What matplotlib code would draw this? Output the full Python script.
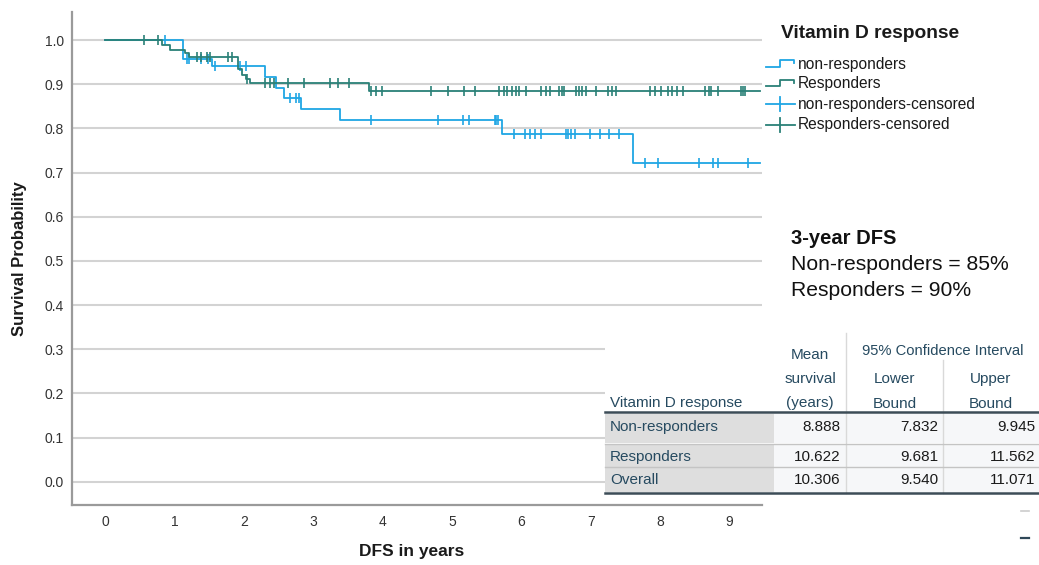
import numpy as np
import matplotlib
matplotlib.use("Agg")
import matplotlib.pyplot as plt
from matplotlib.lines import Line2D
from matplotlib.patches import Rectangle
from matplotlib import font_manager

# ---------------- data ----------------
resp_times = [0.0, 0.82, 0.93, 1.15, 1.21, 1.92, 1.97, 2.03, 2.09, 3.81, 9.44]
resp_surv = [1.0, 0.989, 0.977, 0.970, 0.962, 0.935, 0.920, 0.911, 0.903, 0.884, 0.884]
resp_censor = [0.56, 0.77, 1.32, 1.39, 1.47, 1.51, 1.78, 1.83, 2.05,
               2.31, 2.38, 2.43, 2.64, 2.87, 3.24, 3.36, 3.51,
               3.84, 3.91, 3.99, 4.70, 4.95, 5.17, 5.33, 5.68, 5.75, 5.79, 5.86,
               5.93, 5.97, 6.07, 6.29, 6.35, 6.41, 6.55, 6.58, 6.61, 6.79, 6.83,
               6.88, 6.94, 7.08, 7.25, 7.31, 7.36, 7.85, 7.93, 8.02, 8.12, 8.17,
               8.24, 8.33, 8.65, 8.71, 8.74, 8.84, 9.17, 9.20, 9.22]

nonresp_times = [0.0, 1.13, 1.54, 2.31, 2.47, 2.58, 2.82, 3.39, 5.72, 7.61, 9.44]
nonresp_surv = [1.0, 0.958, 0.941, 0.917, 0.891, 0.868, 0.843, 0.819, 0.787, 0.722, 0.722]
nonresp_censor = [0.86, 1.18, 1.21, 1.39, 1.49, 1.59, 1.95, 2.03,
                  2.67, 2.76, 2.80, 3.84, 4.80, 5.16, 5.25, 5.62, 5.64, 5.67,
                  5.89, 6.05, 6.12, 6.20, 6.29, 6.64, 6.68, 6.71, 6.77, 6.99,
                  7.13, 7.27, 7.41, 7.78, 7.97, 8.56, 8.76, 8.84, 9.27]

x_ticks = list(range(0, 10))
y_ticks = [0.0, 0.1, 0.2, 0.3, 0.4, 0.5, 0.6, 0.7, 0.8, 0.9, 1.0]

legend_title = "Vitamin D response"
legend_labels = ["non-responders", "Responders",
                 "non-responders-censored", "Responders-censored"]

dfs_title = "3-year DFS"
dfs_lines = ["Non-responders = 85%", "Responders = 90%"]

table_groups = ["Non-responders", "Responders", "Overall"]
table_mean = [8.888, 10.622, 10.306]
table_lower = [7.832, 9.681, 9.540]
table_upper = [9.945, 11.562, 11.071]

# ---------------- style ----------------
BLUE = "#1fa6e4"
TEAL = "#2a8077"
TXT = "#264a60"

names = {f.name for f in font_manager.fontManager.ttflist}
MAIN = "Liberation Sans" if "Liberation Sans" in names else "DejaVu Sans"
NARROW = "Liberation Sans Narrow" if "Liberation Sans Narrow" in names else MAIN
plt.rcParams["font.family"] = [MAIN, "DejaVu Sans"]

W, H = 1039, 565
fig = plt.figure(figsize=(W / 100, H / 100), dpi=100)


def fx(x):
    return x / W


def fy(y):
    return 1 - y / H


ax_l, ax_r, ax_t, ax_b = 71.7, 762.0, 12.0, 505.0
ax = fig.add_axes([fx(ax_l), fy(ax_b), fx(ax_r - ax_l), (ax_b - ax_t) / H])
ax.set_xlim(-0.48, 9.47)
ax.set_ylim(-0.0527, 1.0634)

for s in ["top", "right"]:
    ax.spines[s].set_visible(False)
for s in ["left", "bottom"]:
    ax.spines[s].set_color("#9a9a9a")
    ax.spines[s].set_linewidth(1.6)

ax.set_yticks(y_ticks)
ax.set_yticklabels([f"{v:.1f}" for v in y_ticks])
ax.set_xticks(x_ticks)
ax.set_xticklabels([str(v) for v in x_ticks])
ax.tick_params(axis="y", length=0, pad=5.5, labelsize=10, labelcolor="#333333")
ax.tick_params(axis="x", length=0, pad=7.5, labelsize=10, labelcolor="#333333")
for lab in ax.get_xticklabels():
    lab.set_family([NARROW, "DejaVu Sans"])
ax.yaxis.grid(True, color="#d3d3d3", lw=1.5)
ax.xaxis.grid(False)
ax.set_axisbelow(True)


def step_value(times, surv, t):
    idx = np.searchsorted(np.asarray(times), np.asarray(t), side="right") - 1
    return np.asarray(surv)[idx]


ax.step(nonresp_times, nonresp_surv, where="post", color=BLUE, lw=1.3, zorder=3)
ax.plot(nonresp_censor, step_value(nonresp_times, nonresp_surv, nonresp_censor),
        ls="none", marker="|", ms=7, mew=1.2, color=BLUE, zorder=3)
ax.step(resp_times, resp_surv, where="post", color=TEAL, lw=1.3, zorder=4)
ax.plot(resp_censor, step_value(resp_times, resp_surv, resp_censor),
        ls="none", marker="|", ms=7, mew=1.2, color=TEAL, zorder=4)

ax.set_ylabel("Survival Probability", fontsize=12, fontweight="bold", color="#1a1a1a")
ax.yaxis.set_label_coords((20 - ax_l) / (ax_r - ax_l), 0.5)
ax.yaxis.label.set_va("center")
ax.set_xlabel("DFS in years", fontsize=12.5, fontweight="bold", color="#1a1a1a",
              family=[NARROW, "DejaVu Sans"])
ax.xaxis.set_label_coords((411.7 - ax_l) / (ax_r - ax_l), (ax_b - 551.7) / (ax_b - ax_t))
ax.xaxis.label.set_va("center")


# ---------------- legend (manual) ----------------
def fline(xs, ys, **kw):
    fig.add_artist(Line2D([fx(v) for v in xs], [fy(v) for v in ys],
                          transform=fig.transFigure, **kw))


fig.text(fx(780.7), fy(34), legend_title, fontsize=13.8, fontweight="bold",
         ha="left", va="center", color="#1a1a1a")
leg_y = [64, 83.5, 104, 124.5]
leg_col = [BLUE, TEAL, BLUE, TEAL]
for i, (lab, yy, c) in enumerate(zip(legend_labels, leg_y, leg_col)):
    if i < 2:
        fline([766, 780, 780, 794, 794], [yy + 3, yy + 3, yy - 4, yy - 4, yy - 1],
              color=c, lw=1.3)
    else:
        fline([766, 795], [yy, yy], color=c, lw=1.3)
        fline([780, 780], [yy - 7, yy + 7], color=c, lw=1.3)
    fig.text(fx(798), fy(yy), lab, fontsize=11.2, ha="left", va="center", color="#1a1a1a")

# ---------------- 3-year DFS text ----------------
fig.text(fx(791), fy(238), dfs_title, fontsize=14.5, fontweight="bold",
         ha="left", va="center", color="#111111")
for yy, s in zip([264, 290], dfs_lines):
    fig.text(fx(791), fy(yy), s, fontsize=15.2, ha="left", va="center", color="#111111")

# ---------------- table ----------------
def frect(x0, y0, x1, y1, color, z=5):
    fig.add_artist(Rectangle((fx(x0), fy(y1)), fx(x1 - x0), (y1 - y0) / H,
                             transform=fig.transFigure, facecolor=color,
                             edgecolor="none", zorder=z))


frect(605, 333, W, 494.5, "white", z=5)
row_bounds = [(413.5, 442.5), (445, 466.5), (468, 491.5)]
for (y0, y1) in row_bounds:
    frect(605, y0, 774, y1, "#dedede", z=6)
    frect(774, y0, W, y1, "#f6f7f9", z=6)

fline([605, W], [412.2, 412.2], color="#3c4c57", lw=1.8, zorder=8)
fline([605, W], [493.2, 493.2], color="#3c4c57", lw=1.8, zorder=8)
fline([605, W], [443.8, 443.8], color="#c4c4c4", lw=1.0, zorder=8)
fline([605, W], [467.2, 467.2], color="#c4c4c4", lw=1.0, zorder=8)
fline([846, 846], [333, 493], color="#d9d9d9", lw=1.0, zorder=7)
fline([943, 943], [360, 493], color="#d9d9d9", lw=1.0, zorder=7)


def ftext(x, y, s, ha="center", color=TXT, size=11):
    t = fig.text(fx(x), fy(y), s, fontsize=size, ha=ha, va="center", color=color)
    t.set_zorder(9)


ftext(810, 355, "Mean")
ftext(810, 379, "survival")
ftext(810, 403, "(years)")
ftext(943, 351, "95% Confidence Interval", size=10.6)
ftext(894.5, 379, "Lower")
ftext(894.5, 404, "Bound")
ftext(991, 379, "Upper")
ftext(991, 404, "Bound")
ftext(610, 403, "Vitamin D response", ha="left")

row_y = [427, 457, 479.5]
for g, m, lo, up, yy in zip(table_groups, table_mean, table_lower, table_upper, row_y):
    ftext(610, yy, g, ha="left")
    ftext(840.7, yy, f"{m:.3f}", ha="right", color="#1a1a1a")
    ftext(938.3, yy, f"{lo:.3f}", ha="right", color="#1a1a1a")
    ftext(1035, yy, f"{up:.3f}", ha="right", color="#1a1a1a")

# small marks at bottom right
fline([1021, 1029], [511, 511], color="#cccccc", lw=1.2)
fline([1021, 1029], [538, 538], color="#2f4858", lw=1.6)

fig.savefig("out.png", dpi=100)
